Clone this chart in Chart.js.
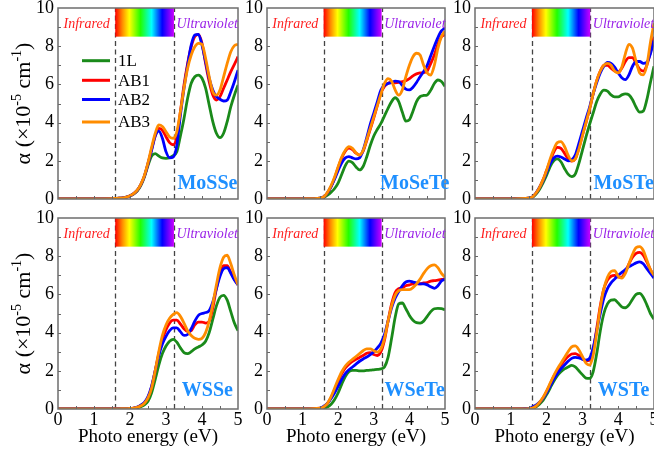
<!DOCTYPE html>
<html>
<head>
<meta charset="utf-8">
<script src="https://cdn.jsdelivr.net/npm/chart.js@4.4.1/dist/chart.umd.min.js"></script>
<style>
  html, body { margin: 0; padding: 0; background: #fff; }
  body { width: 654px; height: 454px; position: relative; overflow: hidden; }
  canvas { position: absolute; }
</style>
</head>
<body>
<canvas id="p0"></canvas><canvas id="p1"></canvas><canvas id="p2"></canvas>
<canvas id="p3"></canvas><canvas id="p4"></canvas><canvas id="p5"></canvas>
<script>
// Photon energy grid (eV)
const energy = [0, 0.5, 1.0, 1.5,
  1.6, 1.7, 1.8, 1.9, 2.0, 2.1, 2.2, 2.3, 2.4, 2.5, 2.6, 2.7, 2.8, 2.9, 3.0,
  3.1, 3.2, 3.3, 3.4, 3.5, 3.6, 3.7, 3.8, 3.9, 4.0, 4.1, 4.2, 4.3, 4.4, 4.5, 4.6, 4.7, 4.8, 4.9, 5.0];

const seriesNames = ['1L', 'AB1', 'AB2', 'AB3'];
const seriesColors = ['#1a8a1a', '#ff0000', '#0000ff', '#ff8c00'];

const xTicks = [0, 1, 2, 3, 4, 5];
const yTicks = [0, 2, 4, 6, 8, 10];
const visibleBand = [1.59, 3.22];   // eV range of visible light
const bandBarBottom = 8.5;

// absorption coefficient, units of 1e5 cm^-1
const mosse1L  = [0,0,0,0.02, 0.03,0.04,0.06,0.1,0.16, 0.26,0.42,0.7,1.15,1.75,2.25,2.38,2.25,2.15,2.13, 2.16,2.27,2.47,3.3,4.22,5.27,6.06,6.4,6.49,6.32, 5.8,4.92,4.05,3.44,3.21,3.44,4.05,4.83,5.44,5.97];
const mosseAB1 = [0,0,0,0.02, 0.03,0.04,0.06,0.1,0.17, 0.28,0.45,0.75,1.2,1.85,2.6,3.3,3.7,3.6,3.26, 2.95,2.84,3.26,4.57,5.97,7.1,7.97,8.5,8.62,8.15, 7.1,6.14,5.44,5.18,5.36,5.8,6.23,6.67,7.05,7.45];
const mosseAB2 = [0,0,0,0.02, 0.03,0.04,0.06,0.1,0.17, 0.28,0.45,0.75,1.2,1.85,2.55,3.3,3.55,3.18,2.48, 2.16,2.2,2.8,4.4,5.8,7.0,8.06,8.59,8.62,8.06, 7.19,6.32,5.71,5.36,5.22,5.13,5.18,5.62,6.14,6.75];
const mosseAB3 = [0,0,0,0.02, 0.03,0.04,0.06,0.1,0.17, 0.28,0.46,0.77,1.23,1.9,2.7,3.43,3.88,3.8,3.52, 3.25,3.18,3.52,4.57,5.8,6.84,7.54,7.97,8.15,8.1, 7.37,6.4,5.62,5.44,5.71,6.4,7.1,7.71,8.03,8.1];

const mosete1L  = [0,0,0.01,0.05, 0.1,0.2,0.35,0.55,0.85, 1.3,1.75,1.98,1.9,1.68,1.52,1.7,2.2,2.8,3.3, 3.65,3.96,4.35,4.75,5.1,5.3,5.1,4.55,4.08,4.15, 4.6,5.1,5.36,5.42,5.45,5.7,6.05,6.23,6.15,5.9];
const moseteAB1 = [0,0,0.01,0.05, 0.12,0.33,0.65,1.1,1.65, 2.15,2.5,2.66,2.58,2.4,2.3,2.5,3.05,3.65,4.25, 4.9,5.55,5.9,6.06,6.1,6.08,6.1,6.15,6.2,6.3, 6.45,6.55,6.6,6.62,6.7,7.1,7.54,8.1,8.5,8.6];
const moseteAB2 = [0,0,0.01,0.05, 0.12,0.33,0.65,1.05,1.5, 1.9,2.15,2.22,2.15,2.1,2.15,2.55,3.2,3.9,4.5, 5.1,5.71,5.95,6.05,6.1,6.17,6.15,5.95,5.75,5.71, 5.85,6.1,6.4,6.67,7.0,7.5,8.0,8.45,8.8,8.95];
const moseteAB3 = [0,0,0.01,0.05, 0.12,0.35,0.7,1.15,1.7, 2.2,2.55,2.74,2.65,2.42,2.3,2.55,3.1,3.7,4.3, 4.9,5.5,6.05,6.3,6.17,5.71,5.44,5.71,6.4,7.0, 7.45,7.63,7.54,7.0,6.6,6.49,7.0,7.89,8.5,8.8];

const moste1L  = [0,0,0.01,0.04, 0.08,0.25,0.5,0.85,1.25, 1.7,2.0,2.1,1.95,1.6,1.3,1.17,1.3,1.85,2.55, 3.25,3.9,4.5,5.1,5.5,5.7,5.65,5.45,5.35,5.35, 5.45,5.5,5.45,5.2,4.8,4.55,4.6,5.2,6.1,6.95];
const mosteAB1 = [0,0,0.01,0.04, 0.1,0.3,0.6,1.0,1.5, 2.0,2.45,2.7,2.65,2.4,2.1,1.98,2.1,2.65,3.35, 4.0,4.7,5.5,6.2,6.7,7.0,7.0,6.85,6.7,6.65, 6.85,7.2,7.4,7.4,7.1,6.8,6.7,7.0,7.7,8.5];
const mosteAB2 = [0,0,0.01,0.04, 0.1,0.3,0.6,0.95,1.4, 1.85,2.15,2.25,2.2,2.1,2.0,2.05,2.3,2.9,3.55, 4.2,4.8,5.5,6.1,6.6,6.95,7.15,7.1,6.9,6.6, 6.35,6.25,6.5,6.95,7.2,7.2,7.1,7.15,7.6,8.3];
const mosteAB3 = [0,0,0.01,0.04, 0.1,0.3,0.6,1.0,1.5, 2.1,2.6,2.95,3.0,2.75,2.3,2.0,2.1,2.6,3.3, 4.0,4.7,5.5,6.2,6.7,7.0,7.1,7.0,6.7,6.6, 6.9,7.6,8.1,7.9,7.2,6.6,6.5,7.0,8.2,9.2];

const wsse1L  = [0,0,0,0, 0.01,0.01,0.01,0.02,0.02, 0.03,0.06,0.12,0.22,0.4,0.85,1.55,2.3,2.9,3.3, 3.55,3.65,3.5,3.2,2.95,2.9,3.0,3.15,3.25,3.35, 3.55,4.0,4.7,5.4,5.85,5.95,5.7,5.1,4.5,4.1];
const wsseAB1 = [0,0,0,0, 0.01,0.01,0.02,0.02,0.03, 0.05,0.09,0.18,0.32,0.6,1.15,2.0,2.9,3.65,4.15, 4.5,4.65,4.65,4.45,4.2,4.05,4.1,4.4,4.55,4.55, 4.5,4.6,5.3,6.3,7.1,7.5,7.5,7.15,6.8,6.5];
const wsseAB2 = [0,0,0,0, 0.01,0.01,0.02,0.02,0.03, 0.05,0.1,0.2,0.35,0.65,1.2,2.0,2.8,3.4,3.8, 4.1,4.25,4.25,4.05,3.85,3.9,4.2,4.6,4.9,5.0, 5.05,5.15,5.6,6.3,6.95,7.35,7.4,7.1,6.75,6.5];
const wsseAB3 = [0,0,0,0, 0.01,0.01,0.02,0.02,0.03, 0.05,0.09,0.17,0.3,0.58,1.1,2.0,3.0,3.85,4.4, 4.75,4.95,5.05,4.85,4.5,4.1,3.85,3.7,3.65,3.7, 4.0,4.6,5.5,6.5,7.4,7.95,8.05,7.6,7.0,6.5];

const wsete1L  = [0,0,0,0.02, 0.05,0.1,0.25,0.5,0.85, 1.3,1.7,1.95,2.02,2.02,2.0,2.0,2.02,2.03,2.05, 2.07,2.1,2.2,2.7,3.7,4.8,5.5,5.55,5.25,4.9, 4.65,4.52,4.5,4.6,4.85,5.1,5.25,5.27,5.25,5.2];
const wseteAB1 = [0,0,0,0.04, 0.12,0.3,0.6,1.0,1.45, 1.85,2.15,2.35,2.5,2.6,2.7,2.8,2.92,2.95,2.85, 2.8,3.0,3.6,4.6,5.5,6.1,6.3,6.35,6.45,6.5, 6.55,6.55,6.55,6.6,6.62,6.7,6.72,6.75,6.78,6.8];
const wseteAB2 = [0,0,0,0.05, 0.15,0.3,0.55,0.85,1.2, 1.55,1.85,2.05,2.2,2.35,2.5,2.62,2.72,2.85,3.0, 3.2,3.45,3.9,4.6,5.3,5.8,6.15,6.45,6.65,6.7, 6.65,6.6,6.55,6.55,6.5,6.4,6.32,6.45,6.7,6.8];
const wseteAB3 = [0,0,0,0.04, 0.12,0.3,0.65,1.1,1.55, 1.95,2.25,2.45,2.6,2.75,2.9,3.05,3.15,3.15,3.05, 2.98,3.15,3.7,4.6,5.4,5.95,6.2,6.25,6.25,6.25, 6.35,6.55,6.8,7.1,7.35,7.5,7.55,7.4,7.1,6.9];

const wste1L  = [0,0,0,0.01, 0.03,0.1,0.25,0.45,0.75, 1.1,1.45,1.75,1.95,2.1,2.2,2.28,2.2,2.0,1.8, 1.62,1.6,1.95,2.9,4.1,5.0,5.5,5.7,5.72,5.55, 5.35,5.3,5.45,5.75,6.0,6.05,5.85,5.45,5.0,4.7];
const wsteAB1 = [0,0,0,0.02, 0.05,0.15,0.33,0.58,0.92, 1.3,1.7,2.0,2.3,2.55,2.75,2.88,2.9,2.8,2.65, 2.52,2.55,3.1,4.2,5.4,6.3,6.75,6.95,7.0,6.9, 6.9,7.2,7.6,7.95,8.15,8.2,8.05,7.7,7.3,7.0];
const wsteAB2 = [0,0,0,0.03, 0.1,0.2,0.35,0.55,0.85, 1.2,1.55,1.85,2.1,2.3,2.5,2.65,2.7,2.68,2.6, 2.56,2.65,3.2,4.1,5.0,5.8,6.3,6.6,6.8,7.0, 7.15,7.3,7.45,7.55,7.65,7.7,7.6,7.35,7.1,6.85];
const wsteAB3 = [0,0,0,0.02, 0.05,0.15,0.35,0.6,0.95, 1.35,1.75,2.1,2.4,2.7,3.0,3.25,3.3,3.1,2.75, 2.4,2.3,2.8,4.0,5.3,6.3,6.9,7.2,7.25,6.95, 6.85,7.1,7.6,8.1,8.45,8.5,8.3,7.8,7.3,7.0];

const panels = [
  { name: 'MoSSe',  row: 0, col: 0, series: [mosse1L, mosseAB1, mosseAB2, mosseAB3] },
  { name: 'MoSeTe', row: 0, col: 1, series: [mosete1L, moseteAB1, moseteAB2, moseteAB3] },
  { name: 'MoSTe',  row: 0, col: 2, series: [moste1L, mosteAB1, mosteAB2, mosteAB3] },
  { name: 'WSSe',   row: 1, col: 0, series: [wsse1L, wsseAB1, wsseAB2, wsseAB3] },
  { name: 'WSeTe',  row: 1, col: 1, series: [wsete1L, wseteAB1, wseteAB2, wseteAB3] },
  { name: 'WSTe',   row: 1, col: 2, series: [wste1L, wsteAB1, wsteAB2, wsteAB3] }
];

// plot-area geometry on the page
const colLeft = [58, 267, 475], colRight = [237.5, 445, 653.5];
const rowTop = [8, 218], rowBottom = [199, 409];
const AXIS_W = 58, PAD_TOP = 8, PAD_RIGHT = 8;
const BOTTOM_H = [12, 45];

const SERIF = '"Liberation Serif", "Times New Roman", serif';
Chart.defaults.font.family = SERIF;

const rainbow = [[0, '#ff0000'], [0.12, '#ff8a00'], [0.24, '#ffff00'], [0.43, '#22ff00'],
                 [0.62, '#00ffff'], [0.8, '#0000ff'], [1, '#cc00ff']];

function drawYTitle(ctx, cx, cy) {
  ctx.save();
  ctx.translate(cx, cy);
  ctx.rotate(-Math.PI / 2);
  const big = '22px ' + SERIF, small = '14px ' + SERIF;
  const parts = [['\u03b1 (\u00d710', big, 0], ['-5', small, -9], [' cm', big, 0], ['-1', small, -9], [')', big, 0]];
  let total = 0;
  parts.forEach(p => { ctx.font = p[1]; total += ctx.measureText(p[0]).width; });
  let xx = -total / 2;
  ctx.fillStyle = '#000';
  ctx.textBaseline = 'alphabetic';
  parts.forEach(p => { ctx.font = p[1]; ctx.fillText(p[0], xx, p[2]); xx += ctx.measureText(p[0]).width; });
  ctx.restore();
}

const decor = {
  id: 'decor',
  beforeDatasetsDraw(chart, args, opts) {
    const { ctx, scales: { x, y } } = chart;
    ctx.save();
    // edges of the visible range
    ctx.strokeStyle = '#444';
    ctx.lineWidth = 1.3;
    ctx.setLineDash([5, 3.5]);
    visibleBand.forEach(v => {
      const px = Math.round(x.getPixelForValue(v)) + 0.5;
      ctx.beginPath();
      ctx.moveTo(px, y.getPixelForValue(0));
      ctx.lineTo(px, y.getPixelForValue(10));
      ctx.stroke();
    });
    ctx.setLineDash([]);
    // visible spectrum strip
    const x1 = x.getPixelForValue(visibleBand[0]), x2 = x.getPixelForValue(visibleBand[1]);
    const yt = y.getPixelForValue(10), yb = y.getPixelForValue(bandBarBottom);
    const g = ctx.createLinearGradient(x1, 0, x2, 0);
    rainbow.forEach(([o, c]) => g.addColorStop(o, c));
    ctx.fillStyle = g;
    ctx.fillRect(x1, yt, x2 - x1, yb - yt);
    ctx.restore();
  },
  afterDatasetsDraw(chart, args, opts) {
    const { ctx, chartArea: a, scales: { x, y } } = chart;
    const p = opts.panel;
    ctx.save();
    // inward ticks
    ctx.strokeStyle = '#666';
    ctx.lineWidth = 1;
    for (let v = 0.5; v < 5; v += 0.5) {
      const px = Math.round(x.getPixelForValue(v)) + 0.5;
      ctx.beginPath(); ctx.moveTo(px, a.bottom); ctx.lineTo(px, a.bottom - 3); ctx.stroke();
    }
    for (let v = 1; v < 10; v += 1) {
      const py = Math.round(y.getPixelForValue(v)) + 0.5;
      ctx.beginPath(); ctx.moveTo(a.left, py); ctx.lineTo(a.left + 3, py); ctx.stroke();
    }
    // frame
    ctx.strokeStyle = '#6e6e6e';
    ctx.lineWidth = 1.5;
    ctx.strokeRect(a.left, a.top, a.right - a.left, a.bottom - a.top);

    // region labels
    const ty = y.getPixelForValue(9.15);
    ctx.textBaseline = 'middle';
    ctx.font = 'italic 14px ' + SERIF;
    ctx.fillStyle = '#ff1f1f';
    ctx.textAlign = 'center';
    ctx.fillText('Infrared', x.getPixelForValue(visibleBand[0] / 2), ty);
    ctx.fillStyle = '#9a22e8';
    ctx.textAlign = 'left';
    ctx.fillText('Ultraviolet', x.getPixelForValue(visibleBand[1]) + 2.5, ty);

    // compound name
    ctx.font = 'bold 20px ' + SERIF;
    ctx.fillStyle = '#1e8fff';
    ctx.textAlign = 'center';
    ctx.fillText(p.name, x.getPixelForValue(4.15), y.getPixelForValue(p.row === 0 ? 0.8 : 0.95));

    // legend (first panel only)
    if (p.row === 0 && p.col === 0) {
      const rowsY = [52.7, 72.3, 91.5, 114];
      ctx.font = '17px ' + SERIF;
      ctx.textAlign = 'left';
      seriesNames.forEach((n, i) => {
        const ly = a.top + rowsY[i];
        ctx.strokeStyle = seriesColors[i];
        ctx.lineWidth = 3;
        ctx.beginPath(); ctx.moveTo(a.left + 24, ly); ctx.lineTo(a.left + 52, ly); ctx.stroke();
        ctx.fillStyle = '#000';
        ctx.fillText(n, a.left + 60, ly + 1);
      });
    }
    ctx.restore();

    if (p.col === 0) drawYTitle(ctx, a.left - 28, (a.top + a.bottom) / 2);
  }
};

panels.forEach((p, idx) => {
  const L = colLeft[p.col], R = colRight[p.col];
  const T = rowTop[p.row], B = rowBottom[p.row];
  const bottomH = BOTTOM_H[p.row];
  const cv = document.getElementById('p' + idx);
  const w = Math.round(AXIS_W + (R - L) + PAD_RIGHT);
  const h = Math.round(PAD_TOP + (B - T) + bottomH);
  cv.width = w; cv.height = h;
  cv.style.width = w + 'px'; cv.style.height = h + 'px';
  cv.style.left = (L - AXIS_W) + 'px';
  cv.style.top = (T - PAD_TOP) + 'px';

  const datasets = p.series.map((vals, i) => ({
    label: seriesNames[i],
    data: energy.map((e, k) => ({ x: e, y: vals[k] })),
    borderColor: seriesColors[i],
    borderWidth: 2.8,
    pointRadius: 0,
    fill: false,
    cubicInterpolationMode: 'monotone',
    order: 3 - i
  }));

  new Chart(cv, {
    type: 'line',
    data: { datasets },
    options: {
      responsive: false,
      animation: false,
      devicePixelRatio: 1,
      layout: { padding: { left: 0, right: PAD_RIGHT, top: PAD_TOP, bottom: 0 } },
      plugins: { legend: { display: false }, tooltip: { enabled: false }, decor: { panel: p } },
      scales: {
        x: {
          type: 'linear', min: 0, max: 5,
          afterFit: s => { s.height = bottomH; s.paddingLeft = 0; s.paddingRight = 0; },
          afterBuildTicks: s => { s.ticks = xTicks.map(v => ({ value: v })); },
          grid: { display: false, drawTicks: false },
          border: { display: false },
          ticks: { display: p.row === 1, color: '#000', font: { size: 18 }, padding: 0, maxRotation: 0, autoSkip: false },
          title: { display: p.row === 1, text: 'Photo energy (eV)', color: '#000', font: { size: 19 }, padding: { top: 0, bottom: 6 } }
        },
        y: {
          min: 0, max: 10,
          afterFit: s => { s.width = AXIS_W; s.paddingTop = 0; s.paddingBottom = 0; },
          afterBuildTicks: s => { s.ticks = yTicks.map(v => ({ value: v })); },
          grid: { display: false, drawTicks: false },
          border: { display: false },
          ticks: { color: '#000', font: { size: 18 }, padding: 4 }
        }
      }
    },
    plugins: [decor]
  });
});
</script>
</body>
</html>
